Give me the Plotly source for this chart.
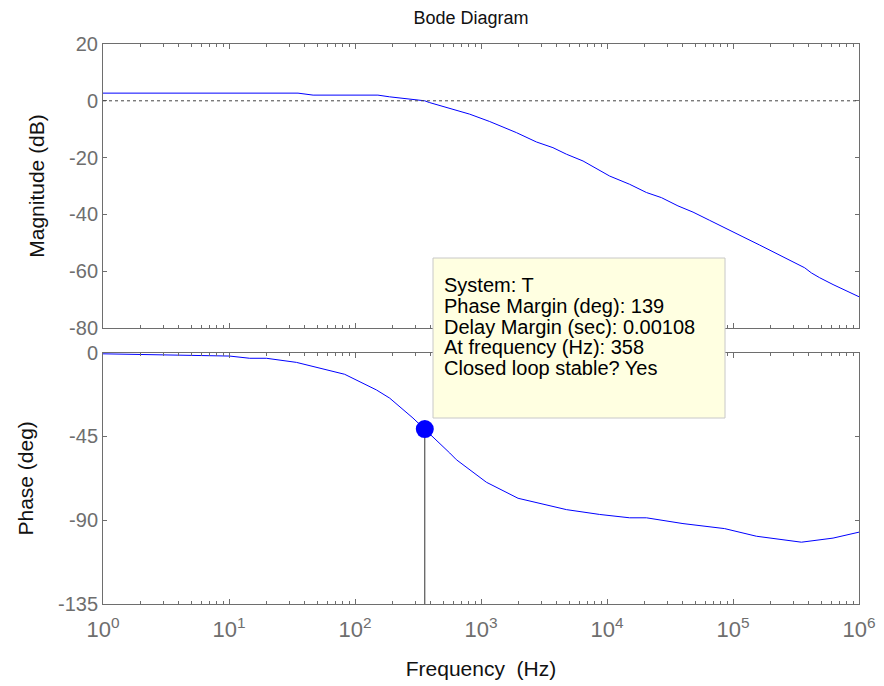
import plotly.graph_objects as go
from plotly.subplots import make_subplots

# ---------------- data ----------------
mag_freq_hz = [1, 35.3, 46.5, 152, 188, 358, 389, 600, 813, 1172, 1910, 2754, 3724,
               4764, 6457, 10500, 15136, 20560, 27040, 36560, 48190, 65310, 88720,
               120000, 162900, 214300, 281800, 338100, 370700, 418800, 487500,
               622300, 1000000]
mag_db = [2.7, 2.7, 2.0, 2.0, 1.4, 0.0, -0.6, -2.9, -4.7, -7.3, -11.2, -14.5, -16.5,
          -18.8, -21.2, -26.5, -29.4, -32.3, -34.1, -37.0, -39.2, -42.1, -44.9,
          -47.9, -50.8, -53.4, -56.0, -58.0, -58.8, -60.6, -62.3, -64.7, -69.0]

phase_freq_hz = [1, 10.1, 14.6, 19.8, 34.3, 82.8, 147.9, 188.4, 288.4, 358, 565, 638,
                 1104, 1968, 4764, 8750, 15136, 20560, 40090, 85900, 153500, 349100,
                 622300, 1000000]
phase_deg = [-0.6, -1.8, -3.0, -3.0, -5.2, -11.6, -20.0, -24.4, -35.1, -41.0, -53.9,
             -57.5, -69.6, -78.2, -84.3, -86.9, -88.7, -88.7, -91.8, -94.5, -98.6,
             -101.8, -99.6, -96.4]

decade_exponents = [0, 1, 2, 3, 4, 5, 6]
minor_digits = [2, 3, 4, 5, 6, 7, 8, 9]
mag_ticks = [-80, -60, -40, -20, 0, 20]
phase_ticks = [-135, -90, -45, 0]

pm_freq_hz = 358
pm_phase_deg = -41
phase_floor_deg = -135

info_lines = ["System: T",
              "Phase Margin (deg): 139",
              "Delay Margin (sec): 0.00108",
              "At frequency (Hz): 358",
              "Closed loop stable? Yes"]

# ---------------- layout helpers ----------------
W, H = 884, 686
ML, MR, MT, MB = 103, 25, 44, 82
PW, PH = W - ML - MR, H - MT - MB


def px_x(px):
    return (px - ML) / PW


def px_y(py):
    return (H - MB - py) / PH


FONT = "Liberation Sans, Arial, Helvetica, sans-serif"
AX_COL = "#6e6e6e"
TICK_FONT = dict(family=FONT, size=20, color="#6e6e6e")
XTICK_FONT = dict(family=FONT, size=22, color="#6e6e6e")
TITLE_FONT = dict(family=FONT, size=21, color="#111111")

fig = make_subplots(rows=2, cols=1)

fig.add_trace(go.Scatter(x=mag_freq_hz, y=mag_db, mode="lines",
                         line=dict(color="#0000ff", width=1), showlegend=False,
                         hoverinfo="skip"), row=1, col=1)
fig.add_trace(go.Scatter(x=phase_freq_hz, y=phase_deg, mode="lines",
                         line=dict(color="#0000ff", width=1), showlegend=False,
                         hoverinfo="skip"), row=2, col=1)
# margin marker stem
fig.add_trace(go.Scatter(x=[pm_freq_hz, pm_freq_hz], y=[pm_phase_deg, phase_floor_deg],
                         mode="lines", line=dict(color="#333333", width=1),
                         showlegend=False, hoverinfo="skip"), row=2, col=1)
fig.add_trace(go.Scatter(x=[pm_freq_hz], y=[pm_phase_deg], mode="markers",
                         marker=dict(color="#0000ff", size=18,
                                     line=dict(color="#0000ff", width=0)),
                         showlegend=False, hoverinfo="skip"), row=2, col=1)

# 0 dB reference line
fig.add_hline(y=0, row=1, col=1, line=dict(color="#444444", width=1, dash="dot"))

tickvals_x = [10 ** e for e in decade_exponents]
ticktext_x = ["10<sup>%d</sup>" % e for e in decade_exponents]
minor_vals = [d * 10 ** e for e in decade_exponents[:-1] for d in minor_digits]

xcommon = dict(type="log", range=[decade_exponents[0], decade_exponents[-1]],
               showline=True, linecolor=AX_COL, linewidth=1, mirror="allticks",
               ticks="inside", ticklen=5, tickcolor=AX_COL, showgrid=False,
               zeroline=False, tickmode="array", tickvals=tickvals_x, automargin=False,
               minor=dict(ticks="inside", ticklen=3, tickcolor=AX_COL,
                          tickmode="array", tickvals=minor_vals, showgrid=False))

fig.update_xaxes(**xcommon, showticklabels=False, row=1, col=1)
fig.update_xaxes(**xcommon, showticklabels=True, ticktext=ticktext_x,
                 tickfont=XTICK_FONT, ticklabelstandoff=6,
                 title=dict(text="Frequency\u00a0 (Hz)", font=TITLE_FONT, standoff=19),
                 row=2, col=1)

ycommon = dict(showline=True, linecolor=AX_COL, linewidth=1, mirror="allticks",
               ticks="inside", ticklen=4, tickcolor=AX_COL, showgrid=False,
               zeroline=False, tickfont=TICK_FONT, tickmode="array", automargin=False)

fig.update_yaxes(**ycommon, range=[mag_ticks[0], mag_ticks[-1]], tickvals=mag_ticks,
                 ticktext=[str(v) for v in mag_ticks],
                 title=dict(text="Magnitude (dB)", font=TITLE_FONT, standoff=18),
                 domain=[px_y(328), 1], row=1, col=1)
fig.update_yaxes(**ycommon, range=[phase_ticks[0], phase_ticks[-1]], tickvals=phase_ticks,
                 ticktext=[str(v) for v in phase_ticks],
                 title=dict(text="Phase (deg)", font=TITLE_FONT, standoff=18),
                 domain=[0, px_y(352.7)], row=2, col=1)

# info box
fig.add_shape(type="rect", xref="paper", yref="paper",
              x0=px_x(433), x1=px_x(725), y0=px_y(418), y1=px_y(258),
              fillcolor="#ffffe1", line=dict(color="#c8c8c8", width=1), layer="above")
line_y = [285, 305.5, 326.5, 347, 368]
for txt, ly in zip(info_lines, line_y):
    fig.add_annotation(text=txt, xref="paper", yref="paper", x=px_x(442), y=px_y(ly),
                       xanchor="left", yanchor="middle", showarrow=False,
                       font=dict(family=FONT, size=20, color="#000000"))

fig.update_layout(
    width=W, height=H,
    margin=dict(l=ML, r=MR, t=MT, b=MB, autoexpand=False),
    paper_bgcolor="white", plot_bgcolor="white",
    title=dict(text="Bode Diagram", x=px_x(471), xref="paper", xanchor="center",
               y=1 - 18 / H, yref="container", yanchor="middle",
               font=dict(family=FONT, size=18, color="#111111")),
    showlegend=False,
)

fig.write_html("out.html", config={"displayModeBar": False},
               post_script="document.body.style.margin='0';document.body.style.overflow='hidden';")
